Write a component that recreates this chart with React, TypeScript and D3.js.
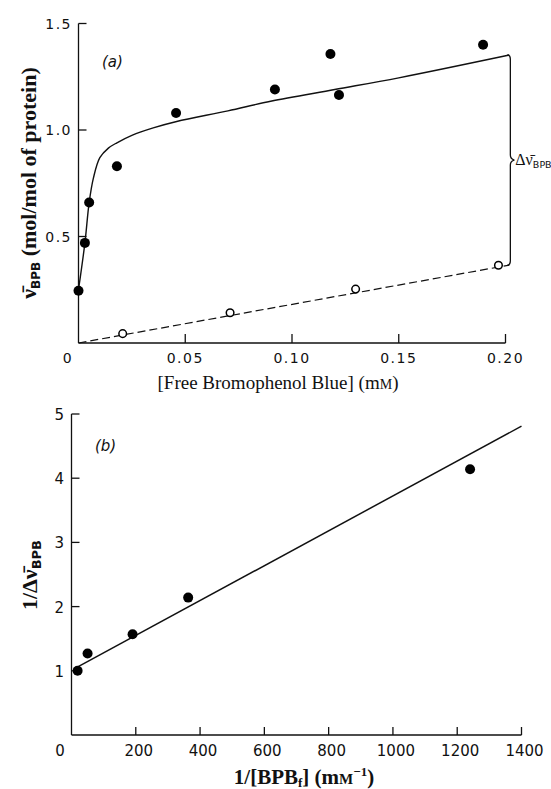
import React from "react";
import * as d3 from "d3";

// Panel (a): bound dye vs free bromophenol blue concentration (mM)
const bindingX = [0.0, 0.003, 0.005, 0.018, 0.0457, 0.092, 0.118, 0.122, 0.1895];
const bindingY = [0.245, 0.47, 0.66, 0.83, 1.08, 1.19, 1.357, 1.164, 1.40];
const nonspecX = [0.0207, 0.071, 0.1298, 0.1967];
const nonspecY = [0.044, 0.142, 0.253, 0.365];
// fitted total-binding curve (readings along the drawn curve)
const fitX = [0.0, 0.003, 0.005, 0.007, 0.010, 0.014, 0.018, 0.025, 0.035, 0.046, 0.07, 0.09, 0.12, 0.15, 0.2018];
const fitY = [0.25, 0.47, 0.66, 0.775, 0.87, 0.915, 0.94, 0.975, 1.01, 1.04, 1.09, 1.135, 1.19, 1.245, 1.352];
// non-specific (linear) binding line
const nonspecLineX = [0.0, 0.2018];
const nonspecLineY = [0.0, 0.366];
const xTicksA = [0, 0.05, 0.1, 0.15, 0.2];
const xTickLabelsA = ["0", "0.05", "0.10", "0.15", "0.20"];
const yTicksA = [0.5, 1.0, 1.5];
const yTickLabelsA = ["0.5", "1.0", "1.5"];

// Panel (b): double-reciprocal plot
const recipX = [19, 50, 190, 363, 1240];
const recipY = [1.0, 1.27, 1.57, 2.14, 4.14];
const recipLineX = [8, 1400];
const recipLineY = [1.03, 4.81];
const xTicksB = [0, 200, 400, 600, 800, 1000, 1200, 1400];
const yTicksB = [1, 2, 3, 4, 5];

const serif = "'Liberation Serif', 'DejaVu Serif', serif";
const sans = "'DejaVu Sans', 'Liberation Sans', sans-serif";

export default function App() {
  // scales for panel (a)
  const xA = d3.scaleLinear().domain([0, 0.2]).range([78.5, 505.5]);
  const yA = d3.scaleLinear().domain([0, 1.5]).range([343, 23.5]);
  // scales for panel (b)
  const xB = d3.scaleLinear().domain([0, 1400]).range([71.5, 521.5]);
  const yB = d3.scaleLinear().domain([0, 5]).range([735, 414]);

  const fitPath = d3
    .line<number>()
    .x((_, i) => xA(fitX[i]))
    .y((d) => yA(d))
    .curve(d3.curveCatmullRom.alpha(0.5))(fitY) as string;

  const nonspecPath = d3
    .line<number>()
    .x((_, i) => xA(nonspecLineX[i]))
    .y((d) => yA(d))(nonspecLineY) as string;

  const recipPath = d3
    .line<number>()
    .x((_, i) => xB(recipLineX[i]))
    .y((d) => yB(d))(recipLineY) as string;

  // brace marking the specific-binding difference at the right end
  const bx = xA(nonspecLineX[1]) + 1;
  const bTop = yA(fitY[fitY.length - 1]);
  const bBot = yA(nonspecLineY[1]);
  const bMid = (bTop + bBot) / 2;
  const bracePath = `M${bx - 3},${bTop} Q${bx},${bTop} ${bx},${bTop + 4} L${bx},${bMid - 5} Q${bx},${bMid - 1} ${bx + 4},${bMid} Q${bx},${bMid + 1} ${bx},${bMid + 5} L${bx},${bBot - 4} Q${bx},${bBot} ${bx - 3},${bBot}`;

  const stroke = "#111";

  return (
    <svg width={551} height={789} style={{ position: "absolute", left: 0, top: 0, background: "#fff" }}>
      <rect x={0} y={0} width={551} height={789} fill="#fff" />

      {/* ---------- Panel (a) ---------- */}
      <g>
        {/* axes */}
        <line x1={xA(0)} y1={yA(0)} x2={xA(0)} y2={yA(1.5)} stroke={stroke} strokeWidth={1.3} />
        <line x1={xA(0)} y1={yA(0)} x2={xA(0.2)} y2={yA(0)} stroke={stroke} strokeWidth={1.3} />
        {yTicksA.map((t, i) => (
          <g key={"ya" + i}>
            <line x1={xA(0)} x2={xA(0) + 8} y1={yA(t)} y2={yA(t)} stroke={stroke} strokeWidth={1.3} />
            <text x={72} y={yA(t) + 5} textAnchor="end" fontFamily={sans} fontSize={14} letterSpacing={1.5} fill="#111">
              {yTickLabelsA[i]}
            </text>
          </g>
        ))}
        {xTicksA.map((t, i) => (
          <g key={"xa" + i}>
            {t > 0 && <line x1={xA(t)} x2={xA(t)} y1={yA(0)} y2={yA(0) - 9} stroke={stroke} strokeWidth={1.3} />}
            <text
              x={t === 0 ? 68 : xA(t)}
              y={363}
              textAnchor="middle"
              fontFamily={sans}
              fontSize={14}
              letterSpacing={1.5}
              fill="#111"
            >
              {xTickLabelsA[i]}
            </text>
          </g>
        ))}

        {/* lines */}
        <path d={fitPath} fill="none" stroke={stroke} strokeWidth={1.4} />
        <path d={nonspecPath} fill="none" stroke={stroke} strokeWidth={1.2} strokeDasharray="8 4" />
        <path d={bracePath} fill="none" stroke={stroke} strokeWidth={1.3} />

        {/* points */}
        {bindingX.map((x, i) => (
          <circle key={"ba" + i} cx={xA(x)} cy={yA(bindingY[i])} r={5} fill="#000" />
        ))}
        {nonspecX.map((x, i) => (
          <circle key={"na" + i} cx={xA(x)} cy={yA(nonspecY[i])} r={3.8} fill="#fff" stroke="#000" strokeWidth={1.5} />
        ))}

        {/* brace label */}
        <text x={bx + 5} y={bMid + 5} fontFamily={serif} fontSize={16} fill="#111">
          {"Δν\u0304"}
          <tspan fontSize={9.5} dy={3} fontFamily={sans}>BPB</tspan>
        </text>

        <text x={102} y={67} fontFamily={sans} fontStyle="italic" fontSize={15} fill="#111">
          (a)
        </text>

        {/* axis titles */}
        <text x={278} y={389} textAnchor="middle" fontFamily={serif} fontSize={19} fill="#111">
          {"[Free Bromophenol Blue] (m"}
          <tspan fontSize={14}>M</tspan>
          {")"}
        </text>
        <text
          transform={`translate(36, ${183}) rotate(-90)`}
          textAnchor="middle"
          fontFamily={serif}
          fontWeight="bold"
          fontSize={22}
          fill="#111"
        >
          {"ν\u0304"}
          <tspan fontSize={12} dy={4} fontFamily={sans}>BPB</tspan>
          <tspan dy={-4}>{" (mol/mol of protein)"}</tspan>
        </text>
      </g>

      {/* ---------- Panel (b) ---------- */}
      <g>
        <line x1={xB(0)} y1={yB(0)} x2={xB(0)} y2={yB(5)} stroke={stroke} strokeWidth={1.3} />
        <line x1={xB(0)} y1={yB(0)} x2={xB(1400)} y2={yB(0)} stroke={stroke} strokeWidth={1.3} />
        {yTicksB.map((t, i) => (
          <g key={"yb" + i}>
            <line x1={xB(0)} x2={xB(0) + 8} y1={yB(t)} y2={yB(t)} stroke={stroke} strokeWidth={1.3} />
            <text x={64} y={yB(t) + 6} textAnchor="end" fontFamily={sans} fontSize={15} fill="#111">
              {String(t)}
            </text>
          </g>
        ))}
        {xTicksB.map((t, i) => (
          <g key={"xb" + i}>
            {t > 0 && <line x1={xB(t)} x2={xB(t)} y1={yB(0)} y2={yB(0) - 8} stroke={stroke} strokeWidth={1.3} />}
            <text
              x={t === 0 ? 60 : xB(t) + 3}
              y={756}
              textAnchor="middle"
              fontFamily={sans}
              fontSize={15}
              fill="#111"
            >
              {String(t)}
            </text>
          </g>
        ))}

        <path d={recipPath} fill="none" stroke={stroke} strokeWidth={1.5} />
        {recipX.map((x, i) => (
          <circle key={"rb" + i} cx={xB(x)} cy={yB(recipY[i])} r={5} fill="#000" />
        ))}

        <text x={95} y={451} fontFamily={sans} fontStyle="italic" fontSize={15} fill="#111">
          (b)
        </text>

        <text x={304} y={784} textAnchor="middle" fontFamily={serif} fontWeight="bold" fontSize={21} fill="#111">
          {"1/[BPB"}
          <tspan fontSize={13} dy={3}>f</tspan>
          <tspan dy={-3}>{"] (m"}</tspan>
          <tspan fontSize={15}>M</tspan>
          <tspan fontSize={13} dy={-8}>−1</tspan>
          <tspan dy={8}>)</tspan>
        </text>
        <text
          transform={`translate(37, ${575}) rotate(-90)`}
          textAnchor="middle"
          fontFamily={serif}
          fontWeight="bold"
          fontSize={22}
          fill="#111"
        >
          {"1/Δν\u0304"}
          <tspan fontSize={13} dy={4} fontFamily={sans}>BPB</tspan>
        </text>
      </g>
    </svg>
  );
}
